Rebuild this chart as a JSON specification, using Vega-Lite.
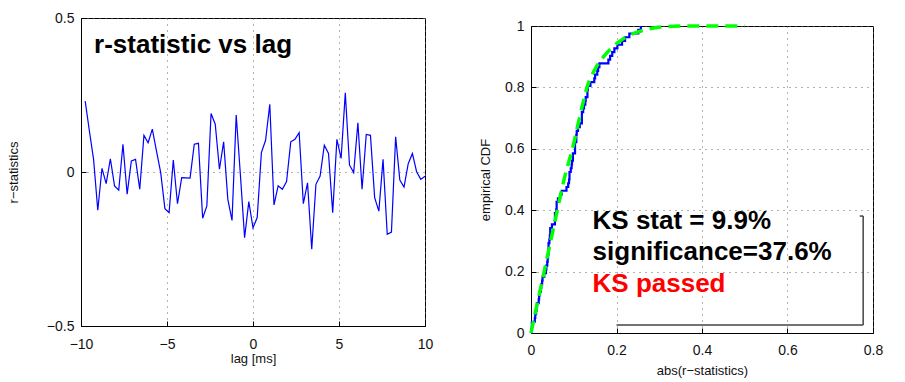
{
  "$schema": "https://vega.github.io/schema/vega-lite/v6.json",
  "padding": {"left": 6, "top": 10, "right": 5, "bottom": 0},
  "background": "white",
  "spacing": 45,
  "datasets": {
    "rstat": [
      {"lag": -9.756, "r": 0.23}, {"lag": -9.512, "r": 0.133}, {"lag": -9.268, "r": 0.041}, {"lag": -9.024, "r": -0.124},
      {"lag": -8.780, "r": 0.012}, {"lag": -8.537, "r": -0.038}, {"lag": -8.293, "r": 0.043}, {"lag": -8.049, "r": -0.045},
      {"lag": -7.805, "r": -0.059}, {"lag": -7.561, "r": 0.09}, {"lag": -7.317, "r": -0.072}, {"lag": -7.073, "r": 0.036},
      {"lag": -6.829, "r": 0.041}, {"lag": -6.585, "r": -0.056}, {"lag": -6.341, "r": 0.119}, {"lag": -6.098, "r": 0.095},
      {"lag": -5.854, "r": 0.139}, {"lag": -5.610, "r": 0.068}, {"lag": -5.366, "r": -0.002}, {"lag": -5.122, "r": -0.119},
      {"lag": -4.878, "r": -0.132}, {"lag": -4.634, "r": 0.039}, {"lag": -4.390, "r": -0.103}, {"lag": -4.146, "r": -0.018},
      {"lag": -3.902, "r": -0.019}, {"lag": -3.659, "r": -0.02}, {"lag": -3.415, "r": 0.09}, {"lag": -3.171, "r": 0.093},
      {"lag": -2.927, "r": -0.15}, {"lag": -2.683, "r": -0.11}, {"lag": -2.439, "r": 0.19}, {"lag": -2.195, "r": 0.155},
      {"lag": -1.951, "r": 0.009}, {"lag": -1.707, "r": 0.098}, {"lag": -1.463, "r": -0.089}, {"lag": -1.220, "r": -0.157},
      {"lag": -0.976, "r": 0.185}, {"lag": -0.732, "r": -0.01}, {"lag": -0.488, "r": -0.213}, {"lag": -0.244, "r": -0.096},
      {"lag": 0.0, "r": -0.181}, {"lag": 0.244, "r": -0.148}, {"lag": 0.488, "r": 0.063}, {"lag": 0.732, "r": 0.103},
      {"lag": 0.976, "r": 0.22}, {"lag": 1.220, "r": -0.107}, {"lag": 1.463, "r": -0.045}, {"lag": 1.707, "r": -0.056},
      {"lag": 1.951, "r": -0.031}, {"lag": 2.195, "r": 0.098}, {"lag": 2.439, "r": 0.106}, {"lag": 2.683, "r": 0.128},
      {"lag": 2.927, "r": -0.103}, {"lag": 3.171, "r": -0.035}, {"lag": 3.415, "r": -0.251}, {"lag": 3.659, "r": -0.04},
      {"lag": 3.902, "r": -0.013}, {"lag": 4.146, "r": 0.087}, {"lag": 4.390, "r": 0.06}, {"lag": 4.634, "r": -0.132},
      {"lag": 4.878, "r": 0.106}, {"lag": 5.122, "r": 0.044}, {"lag": 5.366, "r": 0.257}, {"lag": 5.610, "r": 0.023},
      {"lag": 5.854, "r": -0.002}, {"lag": 6.098, "r": 0.16}, {"lag": 6.341, "r": -0.056}, {"lag": 6.585, "r": 0.122},
      {"lag": 6.829, "r": 0.119}, {"lag": 7.073, "r": -0.083}, {"lag": 7.317, "r": -0.127}, {"lag": 7.561, "r": 0.041},
      {"lag": 7.805, "r": -0.202}, {"lag": 8.049, "r": -0.195}, {"lag": 8.293, "r": 0.114}, {"lag": 8.537, "r": -0.026},
      {"lag": 8.780, "r": -0.049}, {"lag": 9.024, "r": 0.027}, {"lag": 9.268, "r": 0.06}, {"lag": 9.512, "r": 0.001},
      {"lag": 9.756, "r": -0.024}, {"lag": 10.0, "r": -0.014}
    ],
    "ecdf": [
      {"a": 0.0, "p": 0.0},
      {"a": 0.001, "p": 0.0122}, {"a": 0.002, "p": 0.0244}, {"a": 0.002, "p": 0.0366}, {"a": 0.009, "p": 0.0488},
      {"a": 0.010, "p": 0.0610}, {"a": 0.012, "p": 0.0732}, {"a": 0.013, "p": 0.0854}, {"a": 0.014, "p": 0.0976},
      {"a": 0.018, "p": 0.1098}, {"a": 0.019, "p": 0.1220}, {"a": 0.020, "p": 0.1341}, {"a": 0.023, "p": 0.1463},
      {"a": 0.024, "p": 0.1585}, {"a": 0.026, "p": 0.1707}, {"a": 0.027, "p": 0.1829}, {"a": 0.031, "p": 0.1951},
      {"a": 0.035, "p": 0.2073}, {"a": 0.036, "p": 0.2195}, {"a": 0.038, "p": 0.2317}, {"a": 0.039, "p": 0.2439},
      {"a": 0.040, "p": 0.2561}, {"a": 0.041, "p": 0.2683}, {"a": 0.041, "p": 0.2805}, {"a": 0.041, "p": 0.2927},
      {"a": 0.043, "p": 0.3049}, {"a": 0.044, "p": 0.3171}, {"a": 0.045, "p": 0.3293}, {"a": 0.045, "p": 0.3415},
      {"a": 0.049, "p": 0.3537}, {"a": 0.056, "p": 0.3659}, {"a": 0.056, "p": 0.3780}, {"a": 0.056, "p": 0.3902},
      {"a": 0.059, "p": 0.4024}, {"a": 0.060, "p": 0.4146}, {"a": 0.060, "p": 0.4268}, {"a": 0.063, "p": 0.4390},
      {"a": 0.068, "p": 0.4512}, {"a": 0.072, "p": 0.4634}, {"a": 0.083, "p": 0.4756}, {"a": 0.087, "p": 0.4878},
      {"a": 0.089, "p": 0.5000}, {"a": 0.090, "p": 0.5122}, {"a": 0.090, "p": 0.5244}, {"a": 0.093, "p": 0.5366},
      {"a": 0.095, "p": 0.5488}, {"a": 0.096, "p": 0.5610}, {"a": 0.098, "p": 0.5732}, {"a": 0.098, "p": 0.5854},
      {"a": 0.103, "p": 0.5976}, {"a": 0.103, "p": 0.6098}, {"a": 0.103, "p": 0.6220}, {"a": 0.106, "p": 0.6341},
      {"a": 0.106, "p": 0.6463}, {"a": 0.107, "p": 0.6585}, {"a": 0.110, "p": 0.6707}, {"a": 0.114, "p": 0.6829},
      {"a": 0.119, "p": 0.6951}, {"a": 0.119, "p": 0.7073}, {"a": 0.119, "p": 0.7195}, {"a": 0.122, "p": 0.7317},
      {"a": 0.124, "p": 0.7439}, {"a": 0.127, "p": 0.7561}, {"a": 0.128, "p": 0.7683}, {"a": 0.132, "p": 0.7805},
      {"a": 0.132, "p": 0.7927}, {"a": 0.133, "p": 0.8049}, {"a": 0.139, "p": 0.8171}, {"a": 0.148, "p": 0.8293},
      {"a": 0.150, "p": 0.8415}, {"a": 0.155, "p": 0.8537}, {"a": 0.157, "p": 0.8659}, {"a": 0.160, "p": 0.8780},
      {"a": 0.181, "p": 0.8902}, {"a": 0.185, "p": 0.9024}, {"a": 0.190, "p": 0.9146}, {"a": 0.195, "p": 0.9268},
      {"a": 0.202, "p": 0.9390}, {"a": 0.213, "p": 0.9512}, {"a": 0.220, "p": 0.9634}, {"a": 0.230, "p": 0.9756},
      {"a": 0.251, "p": 0.9878}, {"a": 0.257, "p": 1.0}
    ],
    "theory": [
      {"a": 0.0, "p": 0.0}, {"a": 0.01, "p": 0.066}, {"a": 0.02, "p": 0.13}, {"a": 0.03, "p": 0.195},
      {"a": 0.04, "p": 0.26}, {"a": 0.05, "p": 0.325}, {"a": 0.06, "p": 0.39}, {"a": 0.07, "p": 0.455},
      {"a": 0.08, "p": 0.515}, {"a": 0.09, "p": 0.565}, {"a": 0.097, "p": 0.6}, {"a": 0.11, "p": 0.68},
      {"a": 0.12, "p": 0.74}, {"a": 0.131, "p": 0.8}, {"a": 0.15, "p": 0.86}, {"a": 0.17, "p": 0.9},
      {"a": 0.19, "p": 0.93}, {"a": 0.207, "p": 0.95}, {"a": 0.23, "p": 0.97}, {"a": 0.26, "p": 0.985},
      {"a": 0.29, "p": 0.994}, {"a": 0.32, "p": 0.998}, {"a": 0.36, "p": 1.0}, {"a": 0.42, "p": 1.0},
      {"a": 0.5, "p": 1.0}
    ],
    "one": [{}]
  },
  "hconcat": [
    {
      "width": 344,
      "height": 308,
      "layer": [
        {
          "data": {"name": "rstat"},
          "mark": {"type": "line", "color": "#0000ff", "strokeWidth": 1.2},
          "encoding": {
            "x": {"field": "lag", "type": "quantitative", "scale": {"domain": [-10, 10], "nice": false},
                  "axis": {"values": [-10, -5, 0, 5, 10], "title": "lag [ms]", "titlePadding": 1, "labelPadding": 16}},
            "y": {"field": "r", "type": "quantitative", "scale": {"domain": [-0.5, 0.5], "nice": false},
                  "axis": {"values": [-0.5, 0, 0.5], "format": ".1~f", "title": "r−statistics", "titlePadding": 26, "labelPadding": 12}}
          }
        },
        {
          "data": {"name": "one"},
          "mark": {"type": "text", "align": "left", "baseline": "alphabetic", "fontSize": 26, "fontWeight": "bold", "font": "Liberation Sans", "color": "black"},
          "encoding": {
            "x": {"datum": -9.24, "type": "quantitative"},
            "y": {"datum": 0.386, "type": "quantitative"},
            "text": {"value": "r-statistic vs lag"}
          }
        }
      ]
    },
    {
      "spacing": -4,
      "vconcat": [
        {
          "width": 342,
          "height": 1,
          "view": {"stroke": null},
          "data": {"name": "one"},
          "mark": {"type": "point", "opacity": 0},
          "encoding": {}
        },
        {
          "width": 342,
          "height": 307,
          "layer": [
            {
              "data": {"name": "ecdf"},
              "mark": {"type": "line", "color": "#0000ff", "strokeWidth": 2.2, "interpolate": "step-after"},
              "encoding": {
                "x": {"field": "a", "type": "quantitative", "scale": {"domain": [0, 0.8], "nice": false},
                      "axis": {"values": [0, 0.2, 0.4, 0.6, 0.8], "format": ".1~f", "title": "abs(r−statistics)", "titlePadding": 7, "labelPadding": 15}},
                "y": {"field": "p", "type": "quantitative", "scale": {"domain": [0, 1], "nice": false},
                      "axis": {"values": [0, 0.2, 0.4, 0.6, 0.8, 1], "format": ".1~f", "title": "empirical CDF", "titlePadding": 12, "labelPadding": 12}}
              }
            },
            {
              "data": {"name": "theory"},
              "mark": {"type": "line", "color": "#00ff00", "strokeWidth": 3.5, "strokeDash": [12, 7], "interpolate": "monotone"},
              "encoding": {
                "x": {"field": "a", "type": "quantitative"},
                "y": {"field": "p", "type": "quantitative"}
              }
            },
            {
              "data": {"name": "one"},
              "mark": {"type": "rule", "color": "#444444", "strokeWidth": 1.5},
              "encoding": {
                "x": {"datum": 0.2, "type": "quantitative"}, "x2": {"datum": 0.777},
                "y": {"datum": 0.026, "type": "quantitative"}
              }
            },
            {
              "data": {"name": "one"},
              "mark": {"type": "rule", "color": "#444444", "strokeWidth": 1.5},
              "encoding": {
                "x": {"datum": 0.777, "type": "quantitative"},
                "y": {"datum": 0.026, "type": "quantitative"}, "y2": {"datum": 0.381}
              }
            },
            {
              "data": {"name": "one"},
              "mark": {"type": "rule", "color": "#444444", "strokeWidth": 1.5},
              "encoding": {
                "x": {"datum": 0.769, "type": "quantitative"}, "x2": {"datum": 0.777},
                "y": {"datum": 0.381, "type": "quantitative"}
              }
            },
            {
              "data": {"name": "one"},
              "mark": {"type": "text", "align": "left", "baseline": "alphabetic", "fontSize": 26, "fontWeight": "bold", "font": "Liberation Sans", "color": "black"},
              "encoding": {
                "x": {"datum": 0.144, "type": "quantitative"},
                "y": {"datum": 0.338, "type": "quantitative"},
                "text": {"value": "KS stat = 9.9%"}
              }
            },
            {
              "data": {"name": "one"},
              "mark": {"type": "text", "align": "left", "baseline": "alphabetic", "fontSize": 26, "fontWeight": "bold", "font": "Liberation Sans", "color": "black"},
              "encoding": {
                "x": {"datum": 0.144, "type": "quantitative"},
                "y": {"datum": 0.237, "type": "quantitative"},
                "text": {"value": "significance=37.6%"}
              }
            },
            {
              "data": {"name": "one"},
              "mark": {"type": "text", "align": "left", "baseline": "alphabetic", "fontSize": 26, "fontWeight": "bold", "font": "Liberation Sans", "color": "#ff0000"},
              "encoding": {
                "x": {"datum": 0.144, "type": "quantitative"},
                "y": {"datum": 0.133, "type": "quantitative"},
                "text": {"value": "KS passed"}
              }
            }
          ]
        }
      ]
    }
  ],
  "config": {
    "view": {"stroke": "black", "strokeWidth": 1},
    "font": "Liberation Sans",
    "axis": {
      "domainColor": "black",
      "tickColor": "black",
      "tickSize": -5,
      "labelFlush": false,
      "grid": true,
      "gridColor": "#666666",
      "gridDash": [1, 5],
      "gridWidth": 1,
      "labelFont": "Liberation Sans",
      "labelFontSize": 14,
      "labelColor": "#111111",
      "titleFont": "Liberation Sans",
      "titleFontSize": 13,
      "titleFontWeight": "normal",
      "titleColor": "#111111"
    }
  }
}
